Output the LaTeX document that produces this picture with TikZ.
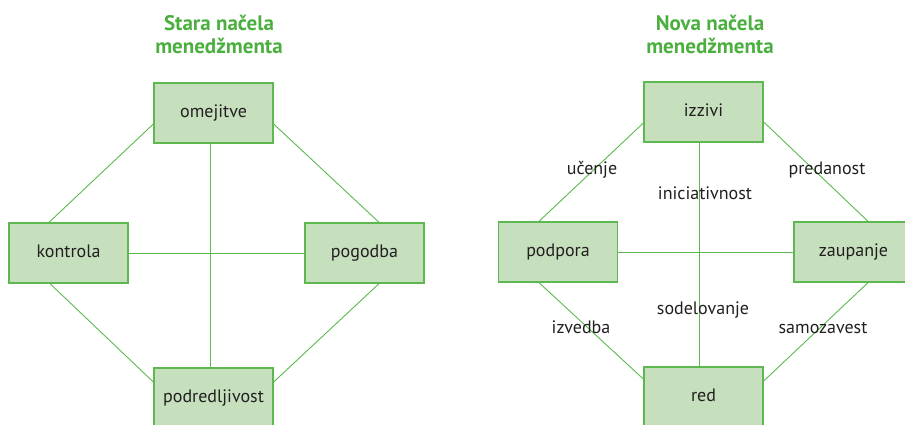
\documentclass[tikz,border=0pt]{standalone}
\usepackage{fontspec}
\setmainfont{PT Sans}
\definecolor{gline}{HTML}{5CB84F}
\definecolor{gfill}{HTML}{C6E0BE}
\definecolor{gtitle}{HTML}{4BAF3F}
\definecolor{txt}{HTML}{231F20}
\begin{document}
\begin{tikzpicture}[x=1pt,y=-1pt,
  box/.style={draw=gline,fill=gfill,line width=1.3pt,minimum width=119pt,minimum height=60pt,inner sep=0pt,
    text=txt,font=\fontsize{18}{21}\selectfont,text height=12pt,text depth=3pt},
  conn/.style={draw=gline,line width=0.9pt},
  lbl/.style={text=txt,font=\fontsize{18}{21}\selectfont,anchor=base,inner sep=0pt},
  ttl/.style={text=gtitle,font=\fontsize{21}{24}\bfseries\selectfont,anchor=base,inner sep=0pt}]
\useasboundingbox (0,0) rectangle (905,425);
\clip (0,0) rectangle (905,425);
% titles
\node[ttl] (t1a) at (219,31) {Stara načela};
\node[ttl] (t1b) at (219,54) {menedžmenta};
\node[ttl] (t2a) at (710,31) {Nova načela};
\node[ttl] (t2b) at (710,54) {menedžmenta};
% left connectors first (under boxes)
\coordinate (lc) at (0,0);
\node[box] (omejitve) at (213.5,113) {omejitve};
\node[box] (kontrola) at (68.5,253) {kontrola};
\node[box] (pogodba) at (364.5,253) {pogodba};
\node[box] (podred) at (213.5,398) {podredljivost};
\node[box] (izzivi) at (703.5,112) {izzivi};
\node[box] (podpora) at (558,252) {podpora};
\node[box] (zaupanje) at (853.5,252) {zaupanje};
\node[box] (red) at (703.5,397) {red};
% left diagram connectors
\draw[conn] ([yshift=-11pt]omejitve.west) -- ([xshift=-19.5pt]kontrola.north);
\draw[conn] ([yshift=-11pt]omejitve.east) -- ([xshift=14.5pt]pogodba.north);
\draw[conn] ([xshift=-3.5pt]omejitve.south) -- ([xshift=-3.5pt]podred.north);
\draw[conn] (kontrola.east) -- (pogodba.west);
\draw[conn] ([xshift=-18.5pt]kontrola.south) -- ([yshift=16pt]podred.west);
\draw[conn] ([xshift=14.5pt]pogodba.south) -- ([yshift=16pt]podred.east);
% right diagram connectors
\draw[conn] ([yshift=-11pt]izzivi.west) -- ([xshift=-19pt]podpora.north);
\draw[conn] ([yshift=-10pt]izzivi.east) -- ([xshift=14.5pt]zaupanje.north);
\draw[conn] ([xshift=-4pt]izzivi.south) -- ([xshift=-4pt]red.north);
\draw[conn] (podpora.east) -- (zaupanje.west);
\draw[conn] ([xshift=-19pt]podpora.south) -- ([yshift=18pt]red.west);
\draw[conn] ([xshift=14.5pt]zaupanje.south) -- ([yshift=16pt]red.east);
% labels
\node[lbl] (ucenje) at (592,175) {učenje};
\node[lbl] (predanost) at (827,175) {predanost};
\node[lbl] (inic) at (705,200) {iniciativnost};
\node[lbl] (sodel) at (703,314) {sodelovanje};
\node[lbl] (izvedba) at (581,333) {izvedba};
\node[lbl] (samoz) at (823,333) {samozavest};
\end{tikzpicture}
\end{document}
